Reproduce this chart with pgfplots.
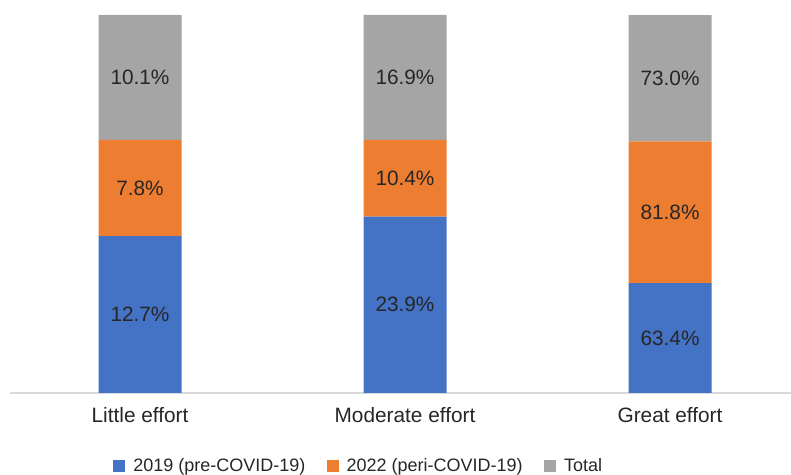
\documentclass[border=0pt]{standalone}
\usepackage{pgfplots}
\pgfplotsset{compat=1.18}
\usepackage{pgfplotstable}
\usepackage{fontspec}
\setmainfont{Liberation Sans}
\definecolor{cblue}{HTML}{4472C4}
\definecolor{corange}{HTML}{ED7D31}
\definecolor{cgray}{HTML}{A5A5A5}
\definecolor{axgray}{HTML}{D9D9D9}
\definecolor{txt}{HTML}{262626}
\pgfplotstableread{
x b o g
0 12.7 7.8 10.1
1 23.9 10.4 16.9
2 63.4 81.8 73.0
}\data
\begin{document}
\begin{tikzpicture}[font=\fontsize{15.6pt}{18pt}\selectfont]
\pgfplotsset{
  common/.style={
    scale only axis, width=585.75pt, height=294.75pt,
    xmin=-0.4906, xmax=2.4566, ymin=0, ymax=103.97,
  }
}
\begin{axis}[
  common,
  ybar stacked, bar width=62.25pt,
  separate axis lines,
  axis x line*=bottom, axis y line=none,
  x axis line style={draw=axgray, line width=0.9pt},
  xtick={0,1,2},
  xticklabels={Little effort, Moderate effort, Great effort},
  major tick length=0pt,
  ytick=\empty,
  xticklabel style={text=txt, yshift=-7pt},
  legend columns=3,
  legend style={at={(axis description cs:0.4469,-0.1845)}, anchor=center, draw=none, fill=none,
    text=txt, font=\fontsize{13.5pt}{16pt}\selectfont,
    /tikz/every even column/.append style={column sep=14pt},
    /tikz/every odd column/.append style={column sep=4pt}},
  legend image code/.code={\fill[#1] (0pt,-4.5pt) rectangle (9pt,4.5pt);},
]
\addplot[fill=cblue, draw=none] table[x=x, y expr=\thisrow{b}/(\thisrow{b}+\thisrow{o}+\thisrow{g})*100] {\data};
\addlegendentry{2019 (pre-COVID-19)}
\addplot[fill=corange, draw=none] table[x=x, y expr=\thisrow{o}/(\thisrow{b}+\thisrow{o}+\thisrow{g})*100] {\data};
\addlegendentry{2022 (peri-COVID-19)}
\addplot[fill=cgray, draw=none] table[x=x, y expr=\thisrow{g}/(\thisrow{b}+\thisrow{o}+\thisrow{g})*100] {\data};
\addlegendentry{Total}
\end{axis}
\begin{axis}[
  common, hide axis, clip=false,
  nodes near coords={\pgfmathprintnumber[fixed,fixed zerofill,precision=1,assume math mode=true]{\pgfplotspointmeta}\%},
  every node near coord/.append style={anchor=center, text=txt},
  point meta=explicit,
]
\addplot[draw=none, mark=none] table[x=x, meta=b, y expr=0.5*\thisrow{b}/(\thisrow{b}+\thisrow{o}+\thisrow{g})*100] {\data};
\addplot[draw=none, mark=none] table[x=x, meta=o, y expr=(\thisrow{b}+0.5*\thisrow{o})/(\thisrow{b}+\thisrow{o}+\thisrow{g})*100] {\data};
\addplot[draw=none, mark=none] table[x=x, meta=g, y expr=(\thisrow{b}+\thisrow{o}+0.5*\thisrow{g})/(\thisrow{b}+\thisrow{o}+\thisrow{g})*100] {\data};
\end{axis}
\pgfresetboundingbox
\path (-7.5pt,-60.75pt) rectangle (585.75pt,294.75pt);
\end{tikzpicture}
\end{document}
